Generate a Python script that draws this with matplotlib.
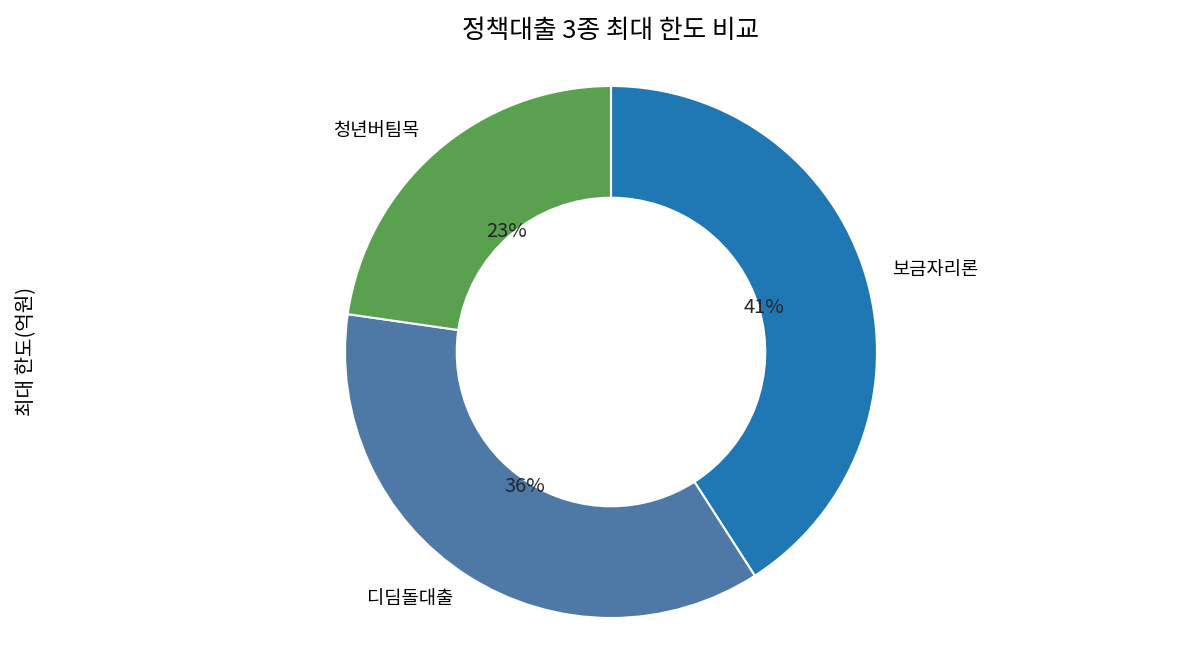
import matplotlib
matplotlib.use("Agg")
import matplotlib.pyplot as plt

plt.rcParams['font.family'] = ['Noto Sans CJK KR', 'DejaVu Sans']

# 정책대출 최대 한도 (억원)
loans = ['보금자리론', '디딤돌대출', '청년버팀목']
limits = [3.6, 3.2, 2.0]
colors = ['#1f77b4', '#4e79a7', '#59a14f']

W, H = 1185, 660
fig = plt.figure(figsize=(W / 100, H / 100), dpi=100)

# pie centre (611, 352) px from top-left, radius 266 px
cx, cy, r = 611, H - 352, 266
left, right = 45, 1177
bottom, top = 4, 614
ax = fig.add_axes([left / W, bottom / H, (right - left) / W, (top - bottom) / H])

wedges, texts, autotexts = ax.pie(
    limits, labels=loans, colors=colors, autopct='%.0f%%',
    startangle=90, counterclock=False, pctdistance=0.6, labeldistance=1.1,
    wedgeprops=dict(width=0.42, edgecolor='white', linewidth=1.5),
    textprops=dict(fontsize=13.5))
for t in autotexts:
    t.set_color('#262626')
    t.set_fontsize(14.5)

ax.set_xlim((left - cx) / r, (right - cx) / r)
ax.set_ylim((bottom - cy) / r, (top - cy) / r)
ax.set_title('정책대출 3종 최대 한도 비교', fontsize=18.5, pad=6)
ax.set_ylabel('최대 한도(억원)', fontsize=14.5, labelpad=6)

fig.savefig('out.png', dpi=100)
